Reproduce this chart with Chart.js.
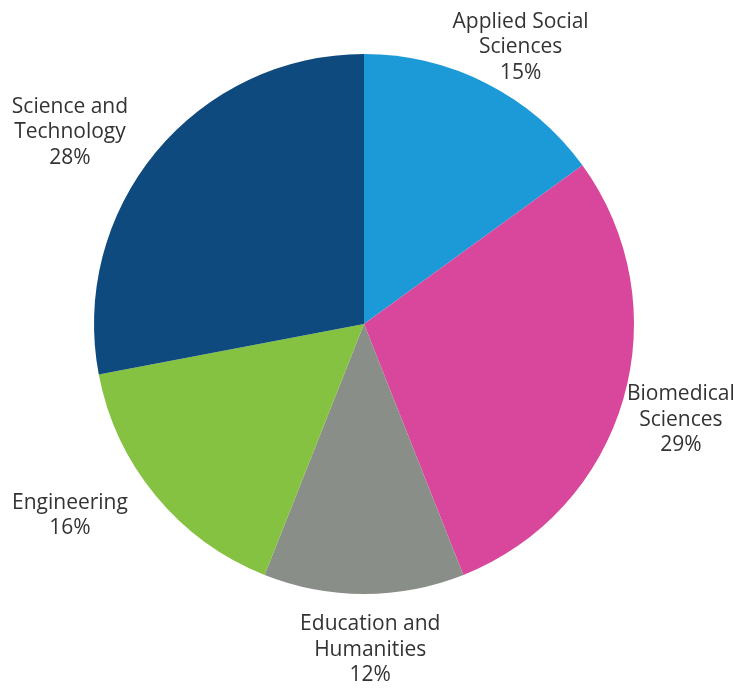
<!DOCTYPE html>
<html>
<head>
<meta charset="utf-8">
<script src="https://cdn.jsdelivr.net/npm/chart.js@4/dist/chart.umd.min.js"></script>
<style>
  html, body { margin: 0; padding: 0; background: #fff; }
  #wrap { width: 755px; height: 689px; }
</style>
</head>
<body>
<div id="wrap"><canvas id="pieChart" width="755" height="689"></canvas></div>
<script>
// Data
const categories = ['Applied Social Sciences', 'Biomedical Sciences', 'Education and Humanities', 'Engineering', 'Science and Technology'];
const shares = [15, 29, 12, 16, 28];

// Label text broken over lines like in the picture
const labelLines = [
    ['Applied Social', 'Sciences'],
    ['Biomedical', 'Sciences'],
    ['Education and', 'Humanities'],
    ['Engineering'],
    ['Science and', 'Technology']
];

const sliceColors = ['#1b9ad7', '#d8479b', '#8a8e88', '#85c242', '#0e4a7d'];
// label placement: distance from centre (px) and angle nudge off the slice middle (deg)
const labelDist = [318, 331, 326, 351, 351];
const labelNudge = [2.5, 0.6, -1.1, 6.5, -6.5];

// Draws the outside labels near each slice's mid angle
const outsideLabels = {
    id: 'outsideLabels',
    afterDatasetsDraw(chart) {
        const ctx = chart.ctx;
        const meta = chart.getDatasetMeta(0);
        ctx.save();
        ctx.font = '21px "Open Sans", sans-serif';
        ctx.fillStyle = '#333333';
        ctx.textAlign = 'center';
        ctx.textBaseline = 'middle';
        const lineH = 25.5;
        meta.data.forEach((arc, i) => {
            const mid = (arc.startAngle + arc.endAngle) / 2 + labelNudge[i] * Math.PI / 180;
            const cx = arc.x + Math.cos(mid) * labelDist[i];
            const cy = arc.y + Math.sin(mid) * labelDist[i];
            const lines = labelLines[i].concat([shares[i] + '%']);
            const top = cy - (lines.length - 1) * lineH / 2;
            lines.forEach((t, j) => ctx.fillText(t, cx, top + j * lineH));
        });
        ctx.restore();
    }
};

new Chart(document.getElementById('pieChart').getContext('2d'), {
    type: 'pie',
    data: {
        labels: categories,
        datasets: [{
            data: shares,
            backgroundColor: sliceColors,
            borderWidth: 0
        }]
    },
    options: {
        responsive: false,
        animation: false,
        layout: { padding: { left: 94, right: 121, top: 54, bottom: 95 } },
        plugins: {
            legend: { display: false },
            tooltip: { enabled: false }
        }
    },
    plugins: [outsideLabels]
});
</script>
</body>
</html>
